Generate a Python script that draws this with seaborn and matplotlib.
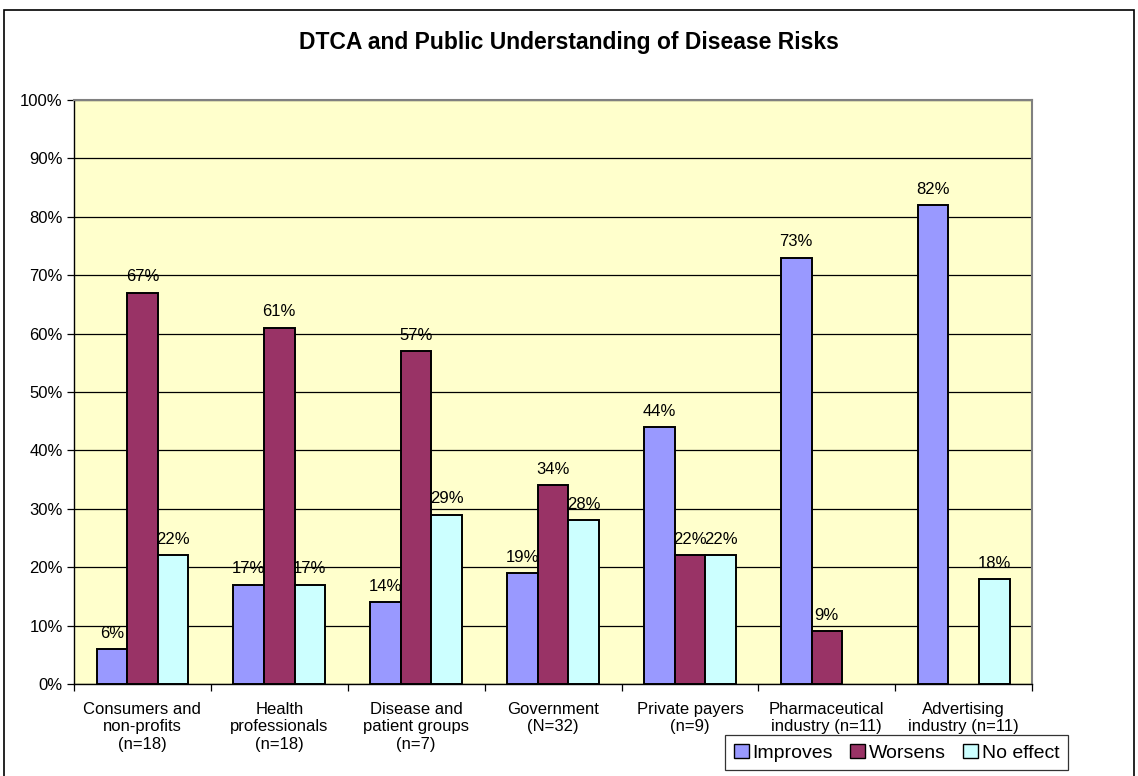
import numpy as np
import pandas as pd
import matplotlib
matplotlib.use("Agg")
import matplotlib.pyplot as plt
from matplotlib.patches import Rectangle
import seaborn as sns

categories = [
    "Consumers and\nnon-profits\n(n=18)",
    "Health\nprofessionals\n(n=18)",
    "Disease and\npatient groups\n(n=7)",
    "Government\n(N=32)",
    "Private payers\n(n=9)",
    "Pharmaceutical\nindustry (n=11)",
    "Advertising\nindustry (n=11)",
]
series = ["Improves", "Worsens", "No effect"]
improves = [6, 17, 14, 19, 44, 73, 82]
worsens = [67, 61, 57, 34, 22, 9, np.nan]
no_effect = [22, 17, 29, 28, 22, np.nan, 18]
colors = ["#9999FF", "#993366", "#CCFFFF"]

df = pd.DataFrame({
    "group": categories * 3,
    "series": sum([[s] * len(categories) for s in series], []),
    "value": improves + worsens + no_effect,
})

sns.set_theme(style="white")
plt.rcParams["font.family"] = ["Liberation Sans", "DejaVu Sans"]
plt.rcParams["text.color"] = "black"
plt.rcParams["xtick.color"] = "black"
plt.rcParams["ytick.color"] = "black"
plt.rcParams["axes.labelcolor"] = "black"

fig = plt.figure(figsize=(11.38, 7.76), dpi=100)
ax = fig.add_axes([0.065, 0.1186, 0.842, 0.7526])
ax.set_facecolor("#FFFFCC")

sns.barplot(data=df, x="group", y="value", hue="series", order=categories,
            hue_order=series, palette=colors, width=0.67, edgecolor="black",
            linewidth=1.4, saturation=1, ax=ax, legend=True, zorder=3)

ax.set_ylim(0, 100)
ax.set_xlim(-0.5, len(categories) - 0.5)
ax.set_yticks(np.arange(0, 101, 10))
ax.set_yticklabels([f"{v}%" for v in range(0, 101, 10)], fontsize=12)
ax.yaxis.grid(True, color="black", linewidth=0.9, zorder=0)
ax.set_axisbelow(True)

# x ticks sit on group boundaries, labels centred under each group
ax.set_xticks(np.arange(-0.5, len(categories) + 0.5, 1))
ax.set_xticklabels([])
ax.set_xticks(np.arange(len(categories)), minor=True)
ax.set_xticklabels(categories, minor=True, fontsize=12, linespacing=1.2)
ax.tick_params(axis="x", which="minor", length=0, pad=13)
ax.tick_params(axis="x", which="major", length=5, width=0.9, color="black", direction="out", bottom=True)
ax.tick_params(axis="y", length=5, width=0.9, color="black", direction="out", left=True, pad=3)
ax.set_xlabel("")
ax.set_ylabel("")

for side in ["top", "right"]:
    ax.spines[side].set_color("#808080")
    ax.spines[side].set_linewidth(1.5)
for side in ["left", "bottom"]:
    ax.spines[side].set_color("black")
    ax.spines[side].set_linewidth(1.0)

# value labels above each bar
for container in ax.containers:
    for bar in container:
        h = bar.get_height()
        if h is None or np.isnan(h) or h == 0:
            continue
        ax.annotate(f"{h:.0f}%", (bar.get_x() + bar.get_width() / 2, h),
                    xytext=(0, 6), textcoords="offset points",
                    ha="center", va="bottom", fontsize=12, color="black")

fig.text(0.5, 1 - 42 / 776, "DTCA and Public Understanding of Disease Risks",
         ha="center", va="center", fontsize=16.5, fontweight="bold")

handles, labels = ax.get_legend_handles_labels()
ax.legend_.remove()
leg = fig.legend(handles, labels, loc="upper center", bbox_to_anchor=(0.788, 0.053),
                 ncol=3, frameon=True, fancybox=False, edgecolor="black",
                 fontsize=14, handlelength=0.75, handleheight=0.75,
                 handletextpad=0.2, columnspacing=0.9, borderpad=0.45,
                 borderaxespad=0)
leg.get_frame().set_linewidth(0.9)
for h in leg.legend_handles:
    h.set_edgecolor("black")
    h.set_linewidth(1.0)

# outer chart border
fig.patches.append(Rectangle((4 / 1138, -0.01), 1130 / 1138, 0.99 + 0.01 - 2 / 776,
                             transform=fig.transFigure, fill=False,
                             edgecolor="black", linewidth=1.2))

fig.savefig("out.png", dpi=100)
